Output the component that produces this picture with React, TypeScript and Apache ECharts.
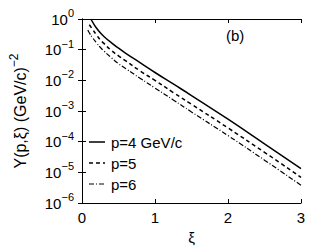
import React, { useEffect, useRef } from "react";
import * as echarts from "echarts";

const legendNames = ["p=4 GeV/c", "p=5", "p=6"];
const xTicks = [0, 1, 2, 3];

const p4: [number, number][] = [
  [0.12, 1.0], [0.15, 0.76], [0.2, 0.5], [0.25, 0.355], [0.3, 0.27], [0.4, 0.17],
  [0.5, 0.112], [0.6, 0.076], [0.8, 0.037], [1.0, 0.018], [1.25, 7.6e-3],
  [1.5, 3.2e-3], [2.0, 5.4e-4], [2.5, 8.5e-5], [3.0, 1.32e-5],
];
const p5: [number, number][] = [
  [0.1, 0.65], [0.15, 0.44], [0.2, 0.3], [0.25, 0.21], [0.3, 0.16], [0.4, 0.095],
  [0.5, 0.063], [0.6, 0.043], [0.8, 0.02], [1.0, 0.01], [1.25, 4.0e-3],
  [1.5, 1.66e-3], [2.0, 2.8e-4], [2.5, 4.5e-5], [3.0, 6.9e-6],
];
const p6: [number, number][] = [
  [0.08, 0.44], [0.1, 0.355], [0.15, 0.235], [0.2, 0.166], [0.25, 0.12], [0.3, 0.091],
  [0.4, 0.055], [0.5, 0.035], [0.6, 0.024], [0.8, 0.0115], [1.0, 5.6e-3],
  [1.25, 2.3e-3], [1.5, 9.3e-4], [2.0, 1.58e-4], [2.5, 2.5e-5], [3.0, 3.8e-6],
];

const FONT = "Liberation Sans, Arial, sans-serif";
const dashes: (number[] | null)[] = [null, [4, 3], [5, 2, 1, 2]];
const widths = [1.5, 1.5, 1.2];

export default function App() {
  const ref = useRef<HTMLDivElement>(null);
  useEffect(() => {
    if (!ref.current) return;
    const chart = echarts.init(ref.current, undefined, { renderer: "svg" });
    const yLabel = (v: number) => {
      const e = Math.round(Math.log10(v));
      const s = e < 0 ? "\u2212" + Math.abs(e) : String(e);
      return `{b|10}{s|${s}}`;
    };
    const tickStyle = { show: true, inside: true, length: 4, lineStyle: { color: "#000", width: 1 } };
    const lineAxis = { show: true, lineStyle: { color: "#000", width: 1 } };
    const legendRows = [142, 163, 184];
    const legendGraphics: any[] = [];
    legendNames.forEach((n, i) => {
      legendGraphics.push({
        type: "line",
        shape: { x1: 89, y1: legendRows[i], x2: 105, y2: legendRows[i] },
        style: { stroke: "#000", lineWidth: widths[i], lineDash: dashes[i] || undefined },
      });
      legendGraphics.push({
        type: "text",
        x: 111,
        y: legendRows[i],
        style: { text: n, fontSize: 15, fill: "#000", fontFamily: FONT, textVerticalAlign: "middle", verticalAlign: "middle" },
      });
    });
    const seriesData = [p4, p5, p6];
    chart.setOption({
      animation: false,
      backgroundColor: "#fff",
      textStyle: { fontFamily: FONT },
      grid: { left: 76, right: 31, top: 19, bottom: 46 },
      xAxis: [
        {
          type: "value",
          min: 0,
          max: 3,
          interval: 1,
          axisLine: lineAxis,
          axisTick: tickStyle,
          splitLine: { show: false },
          axisLabel: {
            fontSize: 15,
            color: "#000",
            margin: 7,
            formatter: (v: number) => (xTicks.includes(v) ? String(v) : ""),
          },
          name: "\u03be",
          nameLocation: "middle",
          nameGap: 27,
          nameTextStyle: { fontSize: 15, color: "#000" },
        },
        {
          type: "value",
          position: "top",
          min: 0,
          max: 3,
          interval: 1,
          axisLine: lineAxis,
          axisTick: tickStyle,
          axisLabel: { show: false },
          splitLine: { show: false },
        },
      ],
      yAxis: [
        {
          type: "log",
          logBase: 10,
          min: 1e-6,
          max: 1,
          axisLine: lineAxis,
          axisTick: tickStyle,
          splitLine: { show: false },
          axisLabel: {
            margin: 8,
            formatter: yLabel,
            rich: {
              b: { fontSize: 15, color: "#000", fontFamily: FONT },
              s: { fontSize: 11, color: "#000", fontFamily: FONT, verticalAlign: "bottom", padding: [0, 0, 12, 0] },
            },
          },
          name: "{b|Y(p,\u03be) (GeV/c)}{s|\u22122}",
          nameLocation: "middle",
          nameGap: 50,
          nameRotate: 90,
          nameTextStyle: {
            rich: {
              b: { fontSize: 16, color: "#000", fontFamily: FONT },
              s: { fontSize: 12, color: "#000", fontFamily: FONT, verticalAlign: "bottom", padding: [0, 0, 12, 0] },
            },
          },
        },
        {
          type: "log",
          logBase: 10,
          min: 1e-6,
          max: 1,
          position: "right",
          axisLine: lineAxis,
          axisTick: tickStyle,
          axisLabel: { show: false },
          splitLine: { show: false },
        },
      ],
      graphic: [
        {
          type: "text",
          left: 226,
          top: 28,
          style: { text: "(b)", fontSize: 15, fill: "#000", fontFamily: FONT },
        },
        ...legendGraphics,
      ],
      series: seriesData.map((d, i) => ({
        name: legendNames[i],
        type: "line",
        data: d,
        symbol: "none",
        smooth: true,
        lineStyle: { color: "#000", width: widths[i], type: dashes[i] || "solid" },
        itemStyle: { color: "#000" },
      })),
    });
    return () => chart.dispose();
  }, []);
  return <div ref={ref} style={{ position: "fixed", left: 0, top: 0, width: 332, height: 250 }} />;
}
